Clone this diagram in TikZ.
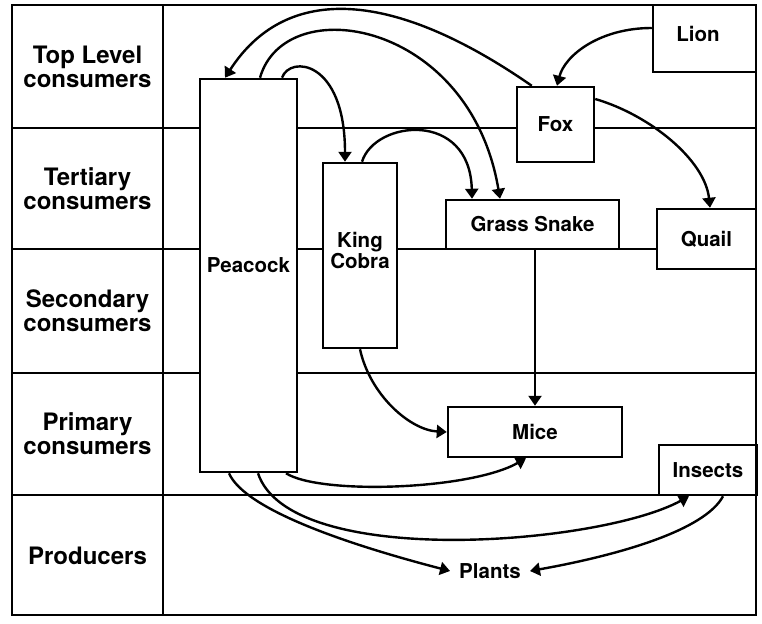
\documentclass[tikz,border=0pt]{standalone}
\usepackage{fontspec}
\setmainfont{TeX Gyre Heros}
\usetikzlibrary{arrows.meta,calc}
\begin{document}
\begin{tikzpicture}[x=1pt,y=-1pt,
  grid/.style={line width=2.3pt},
  box/.style={draw,line width=2.5pt,fill=white,inner sep=0pt,align=center,
    font=\fontsize{20.5}{21}\selectfont\bfseries},
  boxtext/.style={inner sep=0pt,align=center,font=\fontsize{20.5}{21}\selectfont\bfseries},
  lvl/.style={inner sep=0pt,align=center,font=\fontsize{24}{24}\selectfont\bfseries},
  link/.style={line width=2.4pt,-{Triangle[width=13pt,length=10pt]}},
]
\useasboundingbox (0,0) rectangle (762,623);
\fill[white] (0,0) rectangle (762,623);

% grid
\draw[grid] (163,5) -- (163,615);
\foreach \yy in {128,249,373,495} \draw[grid] (12,\yy) -- (756,\yy);

% level labels
\node[lvl] (l1) at (87.5,66.5) {Top Level\\consumers};
\node[lvl] (l2) at (87.5,189) {Tertiary\\consumers};
\node[lvl] (l3) at (87.5,311) {Secondary\\consumers};
\node[lvl] (l4) at (87.5,434) {Primary\\consumers};
\node[lvl] (l5) at (87.5,556) {Producers};

% boxes
\node[box,minimum width=97pt,minimum height=393pt] (peacock) at (248.5,275.5) {};
\node[boxtext] (peacocklbl) at (248.5,265) {Peacock};
\node[box,minimum width=74pt,minimum height=185pt] (kcobra) at (360,255.5) {};
\node[boxtext] (kcobralbl) at (360,250) {King\\Cobra};
\node[box,minimum width=173pt,minimum height=49pt] (gsnake) at (532.5,224.5) {Grass Snake};
\node[box,minimum width=174pt,minimum height=50pt] (mice) at (535,432) {Mice};
\node[box,minimum width=98pt,minimum height=50pt] (insects) at (708,470) {Insects};
\node[box,minimum width=77pt,minimum height=75pt] (fox) at (555.5,124.5) {Fox};
\node[box,minimum width=103pt,minimum height=67pt] (lion) at (704.5,38.5) {};
\node[boxtext] (lionlbl) at (698,34) {Lion};
\node[box,minimum width=99pt,minimum height=60pt] (quail) at (706.5,239) {Quail};
\node[boxtext,inner sep=9pt] (plants) at (490,571) {Plants};

% frame
\draw[grid] (12,5) rectangle (756,615);

% connectors
\draw[link] ([xshift=16pt]fox.north west) .. controls (385,-16) and (283,-12) .. ([xshift=-23.5pt]peacock.north);
\draw[link] ([xshift=11.5pt]peacock.north) .. controls (285,-10) and (470,20) .. ([xshift=-32.5pt]gsnake.north);
\draw[link] ([xshift=33.5pt]peacock.north) .. controls (290,55) and (345,60) .. ([xshift=-15pt]kcobra.north);
\draw[link] ([xshift=2pt]kcobra.north) .. controls (375,120) and (470,110) .. ([xshift=-60.5pt]gsnake.north);
\draw[link] ([yshift=10.5pt]lion.west) .. controls (600,28) and (565,55) .. ([xshift=1.5pt]fox.north);
\draw[link] ([yshift=25.5pt]fox.east) .. controls (650,115) and (705,160) .. ([xshift=3.5pt]quail.north);
\draw[link] (mice.north |- gsnake.south) -- (mice.north);
\draw[link] (kcobra.south) .. controls (370,395) and (410,430) .. (mice.west);
\draw[link] ([xshift=37.5pt]peacock.south) .. controls (320,495) and (470,490) .. ([xshift=-9pt]mice.south);
\draw[link] ([xshift=9.5pt]peacock.south) .. controls (290,570) and (600,545) .. ([xshift=-19pt]insects.south);
\draw[link] ([xshift=-19.5pt]peacock.south) .. controls (245,510) and (350,545) .. (plants.west);
\draw[link] ([xshift=15pt]insects.south) .. controls (705,530) and (620,555) .. (plants.east);
\end{tikzpicture}
\end{document}
